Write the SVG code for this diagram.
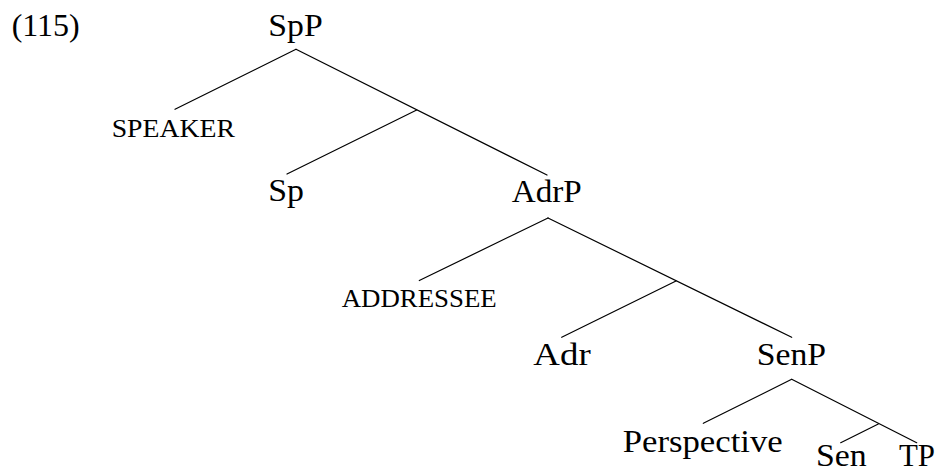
<svg xmlns="http://www.w3.org/2000/svg" width="940" height="472" viewBox="0 0 940 472">
<style>
  .lbl { font-family: "Liberation Serif", "Times New Roman", serif; font-size: 31px; fill: #000; }
  .sc { font-family: "Liberation Serif", "Times New Roman", serif; font-size: 25px; fill: #000; }
  .edge { stroke: #000; stroke-width: 1.2; fill: none; stroke-linecap: round; }
</style>
<rect x="0" y="0" width="940" height="472" fill="#fff"/>
<g id="example-number"><text class="lbl" x="11.7" y="36" textLength="68" lengthAdjust="spacingAndGlyphs">(115)</text></g>
<g id="connectors">
  <line class="edge" x1="296" y1="49.3" x2="175" y2="109.3"/>
  <line class="edge" x1="296" y1="49.3" x2="547" y2="175"/>
  <line class="edge" x1="416.7" y1="110" x2="287" y2="174"/>
  <line class="edge" x1="548" y1="218" x2="419.3" y2="280.5"/>
  <line class="edge" x1="548" y1="218" x2="791.7" y2="337.3"/>
  <line class="edge" x1="676" y1="281" x2="561.7" y2="337.3"/>
  <line class="edge" x1="791.7" y1="379.3" x2="703.3" y2="423.3"/>
  <line class="edge" x1="791.7" y1="379.3" x2="916.7" y2="442.7"/>
  <line class="edge" x1="878.3" y1="424" x2="840.7" y2="442.7"/>
</g>
<g id="SpP"><text class="lbl" x="268.3" y="36" textLength="54.4" lengthAdjust="spacingAndGlyphs">SpP</text></g>
<g id="SPEAKER"><text class="sc" x="111.7" y="136.7" textLength="123.3" lengthAdjust="spacingAndGlyphs">SPEAKER</text></g>
<g id="Sp"><text class="lbl" x="268.3" y="201" textLength="35.7" lengthAdjust="spacingAndGlyphs">Sp</text></g>
<g id="AdrP"><text class="lbl" x="511.7" y="202" textLength="70" lengthAdjust="spacingAndGlyphs">AdrP</text></g>
<g id="ADDRESSEE"><text class="sc" x="341.7" y="307.3" textLength="155" lengthAdjust="spacingAndGlyphs">ADDRESSEE</text></g>
<g id="Adr"><text class="lbl" x="533.3" y="365" textLength="57.4" lengthAdjust="spacingAndGlyphs">Adr</text></g>
<g id="SenP"><text class="lbl" x="756.7" y="365" textLength="69.3" lengthAdjust="spacingAndGlyphs">SenP</text></g>
<g id="Perspective"><text class="lbl" x="622.7" y="451.7" textLength="160" lengthAdjust="spacingAndGlyphs">Perspective</text></g>
<g id="Sen"><text class="lbl" x="816" y="466" textLength="50.7" lengthAdjust="spacingAndGlyphs">Sen</text></g>
<g id="TP"><text class="lbl" x="899" y="466" textLength="36" lengthAdjust="spacingAndGlyphs">TP</text></g>
</svg>
